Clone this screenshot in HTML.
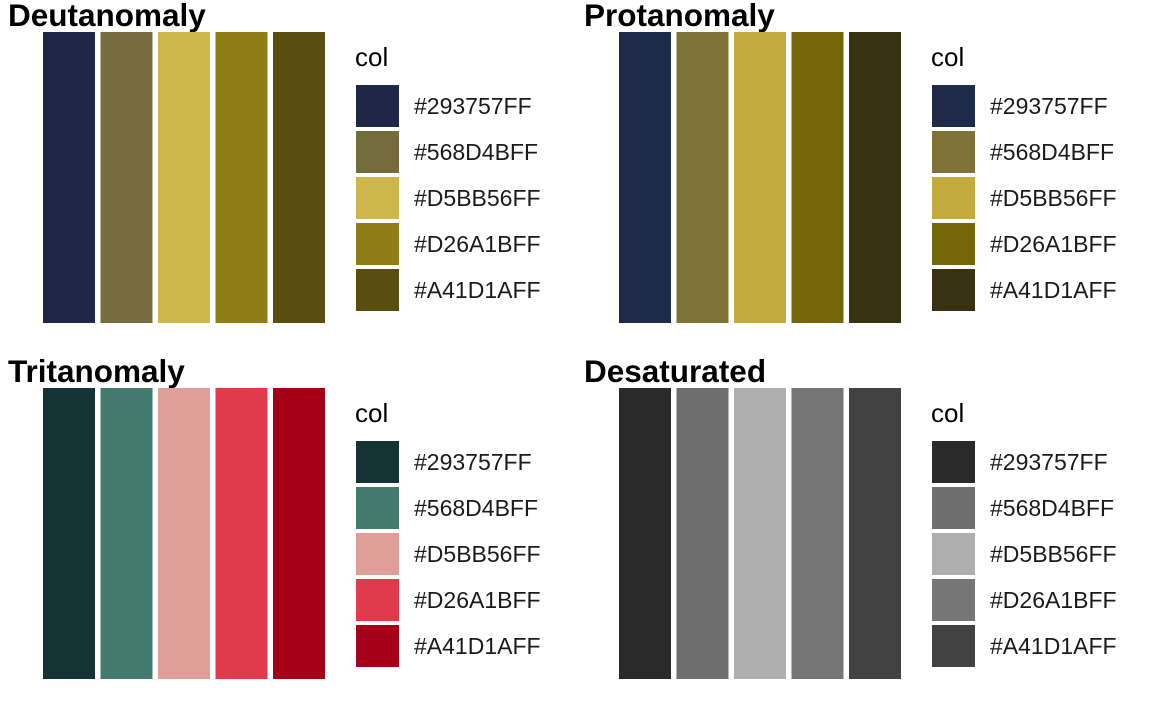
<!DOCTYPE html>
<html><head><meta charset="utf-8"><style>
body{margin:0;background:#fff;width:1152px;height:711px;overflow:hidden;font-family:"Liberation Sans",sans-serif;}
svg text{font-family:"Liberation Sans",sans-serif;}
</style></head><body>
<svg id="c" width="1152" height="711" xmlns="http://www.w3.org/2000/svg"></svg>
<script>
const panelTitles = ["Deutanomaly","Protanomaly","Tritanomaly","Desaturated"];
const legendLabels = ["#293757FF","#568D4BFF","#D5BB56FF","#D26A1BFF","#A41D1AFF"];
const deutColors = ["#1E2846","#756C3D","#CDB74C","#8F7E15","#5A4D0F"];
const protColors = ["#1F2A48","#7E7237","#C2AA3D","#746508","#383212"];
const tritColors = ["#153235","#44796E","#DF9E97","#E03A4C","#A5001A"];
const desatColors = ["#2A2A2A","#6E6E6E","#AEAEAE","#767676","#424242"];
const panelColors = [deutColors, protColors, tritColors, desatColors];

const svg = document.getElementById('c');
const NS = "http://www.w3.org/2000/svg";
function mk(tag, attrs){const e=document.createElementNS(NS,tag);for(const k in attrs)e.setAttribute(k,attrs[k]);return e;}

const origins = [[0,0],[576,0],[0,356],[576,356]];
panelColors.forEach((cols,p)=>{
  const [ox,oy]=origins[p];
  const g=mk('g',{});
  
  
  svg.appendChild(g);
  const t=mk('text',{x:ox+8,y:oy+26,'font-size':'31.5','font-weight':'bold',fill:'#000'});
  t.textContent=panelTitles[p];
  
  
  g.appendChild(t);
  const x0=ox+43, x1=ox+325, n=cols.length, gap=5.5, w=(x1-x0-gap*(n-1))/n;
  cols.forEach((c,i)=>{
    const r=mk('rect',{x:x0+i*(w+gap),y:oy+32,width:w,height:291,fill:c});
    
    
    g.appendChild(r);
  });
  const lt=mk('text',{x:ox+355,y:oy+66,'font-size':'26',fill:'#000'});
  lt.textContent='col';
  
  
  g.appendChild(lt);
  legendLabels.forEach((lab,i)=>{
    const ky=oy+85+i*46;
    const k=mk('rect',{x:ox+356,y:ky,width:43,height:42,fill:cols[i]});
    
    
    g.appendChild(k);
    const tx=mk('text',{x:ox+414,y:ky+29,'font-size':'23',fill:'#1a1a1a'});
    tx.textContent=lab;
    
    
    g.appendChild(tx);
  });
});
</script>
</body></html>
